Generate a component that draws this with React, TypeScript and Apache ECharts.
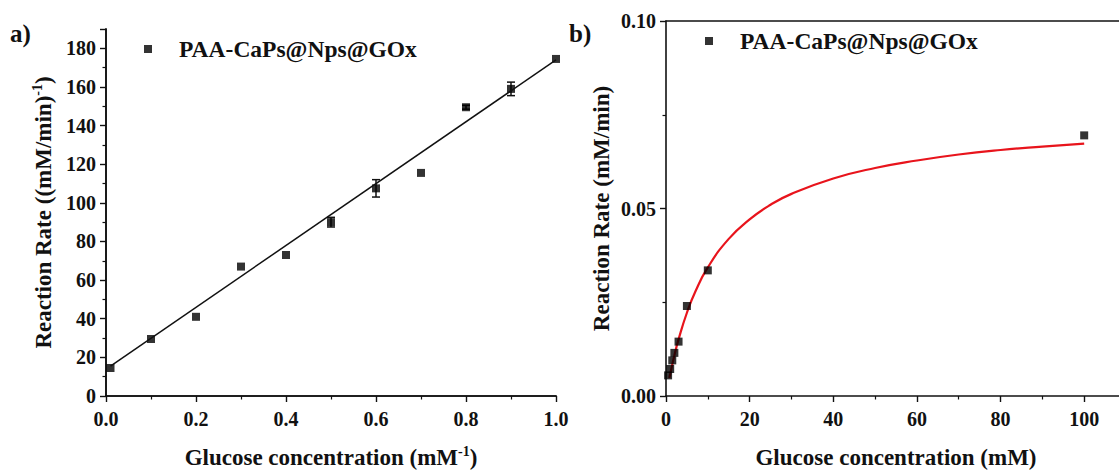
import React, { useEffect, useRef } from "react";
import * as echarts from "echarts";

// Panel a) Lineweaver-Burk style data
const xA = [0.01, 0.1, 0.2, 0.3, 0.4, 0.5, 0.6, 0.7, 0.8, 0.9, 1.0];
const yA = [14.5, 29.5, 41, 67, 73, 90, 107.5, 115.5, 149.5, 159, 174.5];
const errA = [0, 0, 0, 0, 0, 2.5, 4.5, 0, 1, 3.5, 0];
const fitAX = [0.01, 1.0];
const fitAY = [15.5, 174];

// Panel b) Michaelis-Menten data
const xB = [0.5, 1, 1.5, 2, 3, 5, 10, 100];
const yB = [0.0055, 0.0072, 0.0095, 0.0115, 0.0145, 0.024, 0.0335, 0.0695];
const curveBX = [0.8, 1, 2, 3, 5, 7, 10, 15, 20, 25, 30, 40, 50, 60, 70, 80, 90, 100];
const curveBY = [0.0048, 0.0058, 0.0108, 0.0151, 0.0222, 0.0278, 0.0343, 0.0419, 0.0471, 0.051, 0.0539, 0.058, 0.0608, 0.0628, 0.0644, 0.0656, 0.0665, 0.0673];

const seriesName = "PAA-CaPs@Nps@GOx";
const FONT = "Liberation Serif";
const INK = "#111";

export default function App() {
  const ref = useRef<HTMLDivElement>(null);
  useEffect(() => {
    if (!ref.current) return;
    const chart = echarts.init(ref.current, null, { renderer: "svg" });
    const tickLabel = { fontFamily: FONT, fontWeight: "bold", fontSize: 20, color: INK };
    const nameStyle = {
      fontFamily: FONT,
      fontWeight: "bold",
      fontSize: 23,
      color: INK,
      rich: {
        n: { fontFamily: FONT, fontWeight: "bold", fontSize: 23, color: INK, lineHeight: 27 },
        sup: { fontFamily: FONT, fontWeight: "bold", fontSize: 14, color: INK, lineHeight: 27, verticalAlign: "top", padding: [0, 0, 12, 0] },
      },
    };
    const axisLine = { show: true, lineStyle: { color: INK, width: 1.6 } };
    const axisTick = { show: true, inside: false, length: 6, lineStyle: { color: INK, width: 1.4 } };
    const minorTick = { show: true, splitNumber: 2, length: 3.5, lineStyle: { color: INK, width: 1.2 } };
    const frame = (gridIndex: number) => ({
      gridIndex,
      axisLine,
      axisTick: { show: false },
      axisLabel: { show: false },
      splitLine: { show: false },
    });

    const errRender = (params: any, api: any) => {
      const x = api.value(0);
      const y = api.value(1);
      const e = api.value(2);
      if (!e) return null;
      const top = api.coord([x, y + e]);
      const bot = api.coord([x, y - e]);
      const hw = 4;
      const st = { stroke: INK, lineWidth: 1.5 };
      return {
        type: "group",
        children: [
          { type: "line", shape: { x1: top[0], y1: top[1], x2: bot[0], y2: bot[1] }, style: st },
          { type: "line", shape: { x1: top[0] - hw, y1: top[1], x2: top[0] + hw, y2: top[1] }, style: st },
          { type: "line", shape: { x1: bot[0] - hw, y1: bot[1], x2: bot[0] + hw, y2: bot[1] }, style: st },
        ],
      };
    };

    const legendText = { fontFamily: FONT, fontWeight: "bold", fontSize: 23.5, color: INK, padding: [0, 0, 0, 22] };

    chart.setOption({
      animation: false,
      backgroundColor: "#fff",
      grid: [
        { left: 106, top: 29, width: 450, height: 367, containLabel: false, outerBoundsMode: "none" },
        { left: 666, top: 21, width: 460, height: 375, containLabel: false, outerBoundsMode: "none" },
      ],
      legend: [
        { data: [seriesName], left: 139, top: 32, icon: "rect", itemWidth: 8, itemHeight: 8, textStyle: legendText },
        { data: [seriesName], left: 700, top: 24, icon: "rect", itemWidth: 8, itemHeight: 8, textStyle: legendText },
      ],
      xAxis: [
        {
          type: "value",
          gridIndex: 0,
          min: 0,
          max: 1,
          interval: 0.2,
          axisLine,
          axisTick,
          minorTick,
          splitLine: { show: false },
          axisLabel: { ...tickLabel, margin: 13, formatter: (v: number) => v.toFixed(1) },
          name: "{n|Glucose concentration (mM}{sup|-1}{n|)}",
          nameLocation: "middle",
          nameGap: 48,
          nameTextStyle: nameStyle,
        },
        {
          type: "value",
          gridIndex: 1,
          min: 0,
          max: 110,
          interval: 20,
          axisLine,
          axisTick,
          minorTick,
          splitLine: { show: false },
          axisLabel: { ...tickLabel, margin: 13, showMaxLabel: false },
          name: "{n|Glucose concentration (mM)}",
          nameLocation: "middle",
          nameGap: 48,
          nameTextStyle: nameStyle,
        },
        { type: "value", position: "top", min: 0, max: 1, ...frame(0) },
        { type: "value", position: "top", min: 0, max: 110, ...frame(1) },
      ],
      yAxis: [
        {
          type: "value",
          gridIndex: 0,
          min: 0,
          max: 190,
          interval: 20,
          axisLine,
          axisTick,
          minorTick,
          splitLine: { show: false },
          axisLabel: { ...tickLabel, margin: 10, showMaxLabel: false },
          name: "{n|Reaction Rate ((mM/min)}{sup|-1}{n|)}",
          nameLocation: "middle",
          nameRotate: 90,
          nameGap: 49,
          nameTextStyle: nameStyle,
        },
        {
          type: "value",
          gridIndex: 1,
          min: 0,
          max: 0.1,
          interval: 0.05,
          axisLine,
          axisTick,
          minorTick,
          splitLine: { show: false },
          axisLabel: { ...tickLabel, margin: 10, formatter: (v: number) => v.toFixed(2) },
          name: "{n|Reaction Rate (mM/min)}",
          nameLocation: "middle",
          nameRotate: 90,
          nameGap: 51,
          nameTextStyle: nameStyle,
        },
        { type: "value", position: "right", min: 0, max: 190, ...frame(0) },
      ],
      graphic: [
        { type: "text", left: 10, top: 21, style: { text: "a)", fontFamily: FONT, fontWeight: "bold", fontSize: 25, fill: INK } },
        { type: "text", left: 569, top: 21, style: { text: "b)", fontFamily: FONT, fontWeight: "bold", fontSize: 25, fill: INK } },
      ],
      series: [
        {
          type: "line",
          xAxisIndex: 0,
          yAxisIndex: 0,
          data: fitAX.map((x, i) => [x, fitAY[i]]),
          showSymbol: false,
          lineStyle: { color: INK, width: 1.5 },
          silent: true,
        },
        {
          type: "custom",
          xAxisIndex: 0,
          yAxisIndex: 0,
          data: xA.map((x, i) => [x, yA[i], errA[i]]),
          renderItem: errRender,
          silent: true,
        },
        {
          name: seriesName,
          type: "scatter",
          xAxisIndex: 0,
          yAxisIndex: 0,
          data: xA.map((x, i) => [x, yA[i]]),
          symbol: "rect",
          symbolSize: 8,
          itemStyle: { color: "#000" },
        },
        {
          type: "line",
          xAxisIndex: 1,
          yAxisIndex: 1,
          data: curveBX.map((x, i) => [x, curveBY[i]]),
          smooth: true,
          showSymbol: false,
          lineStyle: { color: "#e8141c", width: 2.2 },
          silent: true,
        },
        {
          name: seriesName,
          type: "scatter",
          xAxisIndex: 1,
          yAxisIndex: 1,
          data: xB.map((x, i) => [x, yB[i]]),
          symbol: "rect",
          symbolSize: 8,
          itemStyle: { color: "#000" },
          z: 3,
        },
      ],
    });
    return () => chart.dispose();
  }, []);
  return (
    <div
      ref={ref}
      style={{ position: "fixed", left: 0, top: 0, width: 1119, height: 470, background: "#fff" }}
    />
  );
}
